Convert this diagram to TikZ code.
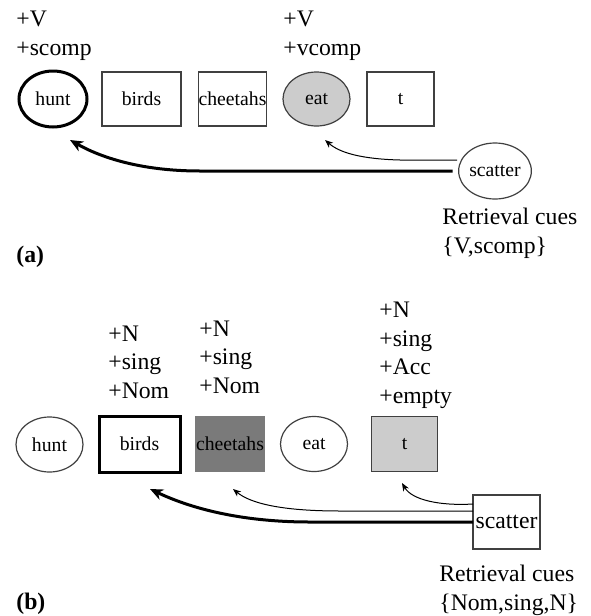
\documentclass[tikz,border=0pt]{standalone}
\usepackage{fontspec}
\setmainfont{Liberation Serif}
\usetikzlibrary{arrows.meta,shapes.geometric}
\colorlet{word border color}{black!75}
\colorlet{light fill color}{black!20}
\colorlet{dark fill color}{black!52}
\tikzset{
    x={0.5pt},
    y={-0.5pt},
    word/.style={
        draw={word border color},
        line width={0.6pt},
        font={\fontsize{9.85}{12}\selectfont},
        inner sep=0pt,
        outer sep=0pt,
        minimum width={33.5pt},
        minimum height={27.5pt},
    },
    word box/.style={
        word, rectangle,
    },
    word ellipse/.style={
        word, ellipse,
    },
    focus/.style={
        draw=black,
        line width={1.5pt},
    },
    feature/.style={
        font={\fontsize{11.85}{14.25}\selectfont},
        align=left,
        anchor=base west,
        inner sep=0pt,
    },
    panel label/.style={
        font={\fontsize{11.85}{14.25}\selectfont\bfseries},
        anchor=base west,
        inner sep=0pt,
    },
    cue/.style={
        draw=black,
        line width={#1},
    },
    strong cue/.style={
        cue={1.5pt},
        -{Stealth[length=6.5pt,width=5.5pt,inset=2pt]},
    },
    weak cue/.style={
        cue={0.5pt},
        -{Stealth[length=4pt,width=3.2pt,inset=1.2pt]},
    },
}

\begin{document}
\begin{tikzpicture}
\useasboundingbox (0,0) rectangle (590,616);
% panel (a): words
\node[word ellipse, focus, minimum width={34pt}, minimum height={28pt}] (huntA) at (53,99) {hunt};
\node[word box, minimum width={39.5pt}, minimum height={27pt}] (birdsA) at (141.5,99) {birds};
\node[word box, minimum height={27pt}] (cheetahsA) at (232.5,99) {cheetahs};
\node[word ellipse, fill=light fill color, minimum height={27pt}] (eatA) at (316.5,99) {eat};
\node[word box, minimum height={27pt}] (tA) at (400.5,99) {t};
\node[word ellipse, minimum width={32pt}, minimum height={28pt}] (scatterA) at (495,171) {scatter};
% panel (a): features and cues (base = last line)
\node[feature] (featHuntA) at (16,55) {+V\\+scomp};
\node[feature] (featEatA) at (283,55) {+V\\+vcomp};
\node[feature] (cuesA) at (442,253) {Retrieval cues\\\{V,scomp\}};
\node[panel label] (panelA) at (16,262) {(a)};
% panel (a): retrieval
\draw[strong cue] ([xshift=-3pt]scatterA.west) -- (200,171) .. controls (140,171) and (100,157) .. ([shift={(17,41)}]huntA.center);
\draw[weak cue] ([shift={(-38,-11)}]scatterA.center) -- (400,160) .. controls (362,159) and (340,153) .. ([shift={(8.5,41)}]eatA.center);
% panel (b): words
\node[word ellipse] (huntB) at (49.5,444.5) {hunt};
\node[word box, focus, minimum width={40.5pt}, minimum height={28pt}] (birdsB) at (139.5,444) {birds};
\node[word box, fill=dark fill color, draw=dark fill color, minimum width={33pt}] (cheetahsB) at (230,444) {cheetahs};
\node[word ellipse] (eatB) at (314,444) {eat};
\node[word box, fill=light fill color, minimum width={33pt}] (tB) at (404.5,444) {t};
\node[word box, font={\fontsize{11.85}{14.25}\selectfont}, minimum height={27pt}] (scatterB) at (506.5,522) {scatter};
% panel (b): features and cues
\node[feature] (featBirdsB) at (108,398) {+N\\+sing\\+Nom};
\node[feature] (featCheetahsB) at (199,393) {+N\\+sing\\+Nom};
\node[feature] (featTB) at (379,403) {+N\\+sing\\+Acc\\+empty};
\node[feature] (cuesB) at (439,610) {Retrieval cues\\\{Nom,sing,N\}};
\node[panel label] (panelB) at (16,609) {(b)};
% panel (b): retrieval
\draw[strong cue] (scatterB.west) -- (310,522) .. controls (240,522) and (190,508) .. ([shift={(10.5,45)}]birdsB.center);
\draw[weak cue] ([shift={(0,-11)}]scatterB.west) -- (340,511) .. controls (280,511) and (250,503) .. ([shift={(3,45)}]cheetahsB.center);
\draw[weak cue] ([shift={(0,-18)}]scatterB.west) .. controls (440,506) and (412,500) .. ([shift={(-2.5,39)}]tB.center);
\end{tikzpicture}
\end{document}
